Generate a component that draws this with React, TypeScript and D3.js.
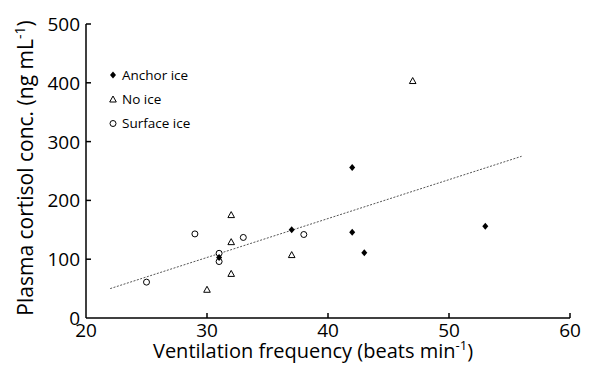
import React from "react";
import * as d3 from "d3";

const anchorX = [31, 37, 42, 42, 43, 53];
const anchorY = [103, 150, 256, 146, 111, 156];
const noIceX = [30, 32, 32, 32, 37, 47];
const noIceY = [48, 75, 129, 175, 107, 403];
const surfX = [25, 29, 31, 31, 33, 38];
const surfY = [61, 143, 110, 96, 137, 142];
const trendX = [22, 56];
const trendY = [50, 275];
const xTicks = [20, 30, 40, 50, 60];
const yTicks = [0, 100, 200, 300, 400, 500];
const legendLabels = ["Anchor ice", "No ice", "Surface ice"];

const W = 591, H = 370;
const M = { left: 86, right: 21, top: 24, bottom: 52 };

export default function App() {
  const x = d3.scaleLinear().domain([20, 60]).range([M.left, W - M.right]);
  const y = d3.scaleLinear().domain([0, 500]).range([H - M.bottom, M.top]);
  const line = d3.line<number>().x((d, i) => x(trendX[i])).y((d, i) => y(d));
  const font = "'Open Sans', sans-serif";
  const diamond = (cx: number, cy: number, k: string) => (
    <path key={k} d={`M${cx},${cy - 3.5}L${cx + 3},${cy}L${cx},${cy + 3.5}L${cx - 3},${cy}Z`} fill="#000" />
  );
  const tri = (cx: number, cy: number, k: string) => (
    <path key={k} d={`M${cx},${cy - 3.5}L${cx + 3.3},${cy + 2.5}L${cx - 3.3},${cy + 2.5}Z`} fill="#fff" stroke="#000" strokeWidth={1} />
  );
  const circ = (cx: number, cy: number, k: string) => (
    <circle key={k} cx={cx} cy={cy} r={3} fill="#fff" stroke="#000" strokeWidth={1} />
  );
  const y0 = H - M.bottom;
  return (
    <svg width={W} height={H} style={{ position: "absolute", left: 0, top: 0, background: "#fff" }}>
      <rect width={W} height={H} fill="#fff" />
      <path d={line(trendY) || ""} fill="none" stroke="#555" strokeWidth={1} strokeDasharray="2,1.5" />
      <line x1={M.left} x2={W - M.right} y1={y0} y2={y0} stroke="#000" strokeWidth={1.5} />
      <line x1={M.left} x2={M.left} y1={M.top} y2={y0} stroke="#000" strokeWidth={1.5} />
      {xTicks.map((t) => (
        <g key={"xt" + t}>
          {t > 20 && <line x1={x(t)} x2={x(t)} y1={y0} y2={y0 - 5} stroke="#000" strokeWidth={1.5} />}
          <text x={x(t)} y={y0 + 19} textAnchor="middle" fontFamily={font} fontSize={19} fill="#000">{t}</text>
        </g>
      ))}
      {yTicks.map((t) => (
        <g key={"yt" + t}>
          {t > 0 && <line x1={M.left} x2={M.left + 5} y1={y(t)} y2={y(t)} stroke="#000" strokeWidth={1.5} />}
          <text x={M.left - 6} y={y(t) + 7} textAnchor="end" fontFamily={font} fontSize={19} fill="#000">{t}</text>
        </g>
      ))}
      <text x={313} y={358} textAnchor="middle" fontFamily={font} fontSize={20} fill="#000">
        Ventilation frequency (beats min<tspan dy={-8} fontSize={13}>-1</tspan><tspan dy={8}>)</tspan>
      </text>
      <text transform={`translate(33,168) rotate(-90)`} textAnchor="middle" fontFamily={font} fontSize={21} fill="#000">
        Plasma cortisol conc. (ng mL<tspan dy={-8} fontSize={14}>-1</tspan><tspan dy={8}>)</tspan>
      </text>
      {noIceX.map((v, i) => tri(x(v), y(noIceY[i]), "n" + i))}
      {surfX.map((v, i) => circ(x(v), y(surfY[i]), "s" + i))}
      {anchorX.map((v, i) => diamond(x(v), y(anchorY[i]), "a" + i))}
      {diamond(113, 75, "la")}
      {tri(113, 99.5, "ln")}
      {circ(113, 123.5, "ls")}
      {legendLabels.map((l, i) => (
        <text key={l} x={122} y={79.8 + i * 24.3} fontFamily={font} fontSize={13.5} fill="#000">{l}</text>
      ))}
    </svg>
  );
}
